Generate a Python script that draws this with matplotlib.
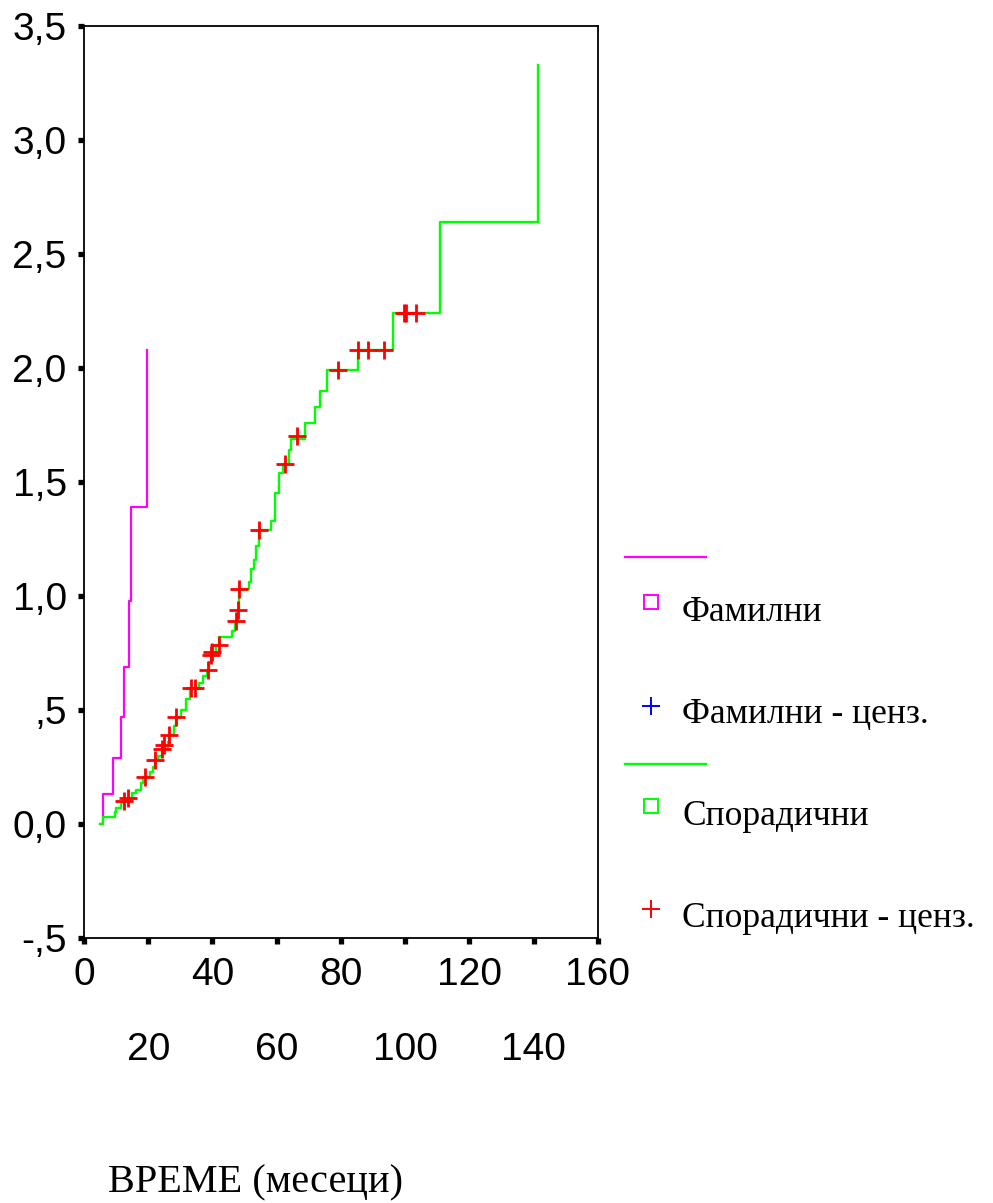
import numpy as np
import matplotlib
matplotlib.use('Agg')
import matplotlib.pyplot as plt

# cumulative hazard, family group (all events)
fam_t = [5.0, 5.8, 8.9, 11.4, 12.5, 13.9, 14.5, 19.6]
fam_h = [0.0, 0.13, 0.29, 0.47, 0.69, 0.98, 1.39, 2.08]

# cumulative hazard, sporadic group
spor_t = [5.0, 6.0, 9.6, 10.1, 11.5, 12.0, 14.8, 16.3, 17.8, 18.5, 20.4, 21.5, 22.0, 23.0,
          24.3, 26.0, 26.5, 28.0, 28.7, 30.2, 31.8, 33.0, 35.9, 36.9, 38.3, 39.0, 39.5,
          41.0, 42.0, 46.1, 47.0, 47.8, 48.3, 51.4, 51.9, 52.9, 53.4, 54.5, 58.1, 59.6,
          60.7, 62.0, 63.8, 64.3, 68.9, 72.0, 73.6, 75.6, 85.4, 96.3, 110.7, 141.3]
spor_h = [0.0, 0.03, 0.054, 0.07, 0.09, 0.10, 0.135, 0.15, 0.18, 0.205, 0.23, 0.25, 0.28, 0.30,
          0.33, 0.36, 0.39, 0.43, 0.47, 0.50, 0.55, 0.596, 0.62, 0.65, 0.675, 0.71, 0.745,
          0.785, 0.82, 0.845, 0.89, 0.94, 1.03, 1.06, 1.12, 1.16, 1.22, 1.29, 1.33, 1.45,
          1.54, 1.58, 1.64, 1.69, 1.76, 1.83, 1.90, 1.99, 2.08, 2.24, 2.64, 3.33]

# censored cases, sporadic group
cens_t = [12.6, 13.8, 18.9, 22.0, 24.3, 25.0, 26.6, 28.7, 33.3, 34.4, 38.5, 39.5, 40.0,
          42.1, 47.3, 47.8, 48.3, 54.5, 62.7, 66.3, 79.2, 85.4, 88.5, 93.5, 99.6, 100.2, 103.5]
cens_h = [0.10, 0.115, 0.205, 0.28, 0.33, 0.345, 0.39, 0.47, 0.596, 0.596, 0.675, 0.74, 0.755,
          0.785, 0.89, 0.94, 1.03, 1.29, 1.58, 1.70, 1.99, 2.08, 2.08, 2.08, 2.24, 2.24, 2.24]

xticks = [0, 20, 40, 60, 80, 100, 120, 140, 160]
yticks = [-0.5, 0.0, 0.5, 1.0, 1.5, 2.0, 2.5, 3.0, 3.5]
ylabels = ['-,5', '0,0', ',5', '1,0', '1,5', '2,0', '2,5', '3,0', '3,5']
legend_labels = ['Фамилни', 'Фамилни - ценз.', 'Спорадични', 'Спорадични - ценз.']

W, H = 993, 1203
fig = plt.figure(figsize=(W / 100, H / 100), dpi=100)
sans = ['Liberation Sans', 'DejaVu Sans']
serif = ['Liberation Serif', 'DejaVu Serif']

ax = fig.add_axes([84 / W, 1 - 938 / H, 514 / W, 912 / H])
ax.plot(fam_t, fam_h, drawstyle='steps-post', color='#ff00ff', lw=1.6)
ax.plot(spor_t, spor_h, drawstyle='steps-post', color='#00ff00', lw=1.7)
ax.plot(cens_t, cens_h, ls='none', marker='+', ms=13, mew=2.0, color='#ff0000')

ax.set_xlim(0, 160)
ax.set_ylim(-0.5, 3.5)
ax.set_xticks(xticks)
ax.set_xticklabels([str(v) for v in xticks], family=sans, fontsize=28)
ax.set_yticks(yticks)
ax.set_yticklabels(ylabels, family=sans, fontsize=28)
ax.tick_params(direction='out', length=4.5, width=3.8, color='black')
ax.tick_params(axis='y', pad=8)
for i, tk in enumerate(ax.xaxis.get_major_ticks()):
    tk.set_pad(9 if i % 2 == 0 else 63)
for s in ax.spines.values():
    s.set_linewidth(1.3)

fig.text(108 / W, 1 - 1192 / H, 'ВРЕМЕ (месеци)', family=serif, fontsize=29, va='baseline')

# legend drawn in pixel space
lg = fig.add_axes([0, 0, 1, 1])
lg.set_xlim(0, W)
lg.set_ylim(H, 0)
lg.axis('off')
lg.plot([625, 706], [557, 557], color='#ff00ff', lw=1.6)
lg.plot([625, 706], [764, 764], color='#00ff00', lw=1.7)
lg.plot([650.5], [602], marker='s', ms=9.5, mfc='none', mec='#ff00ff', mew=1.4)
lg.plot([650.5], [806], marker='s', ms=9.5, mfc='none', mec='#00ff00', mew=1.4)
lg.plot([650.5], [706], marker='+', ms=13, mew=1.4, color='#0000ff')
lg.plot([650.5], [909], marker='+', ms=13, mew=1.4, color='#ff0000')
for txt, yb in zip(legend_labels, [621, 723, 825, 927]):
    lg.text(682, yb, txt, family=serif, fontsize=25.5, va='baseline')

fig.savefig('out.png', dpi=100, facecolor='white')
